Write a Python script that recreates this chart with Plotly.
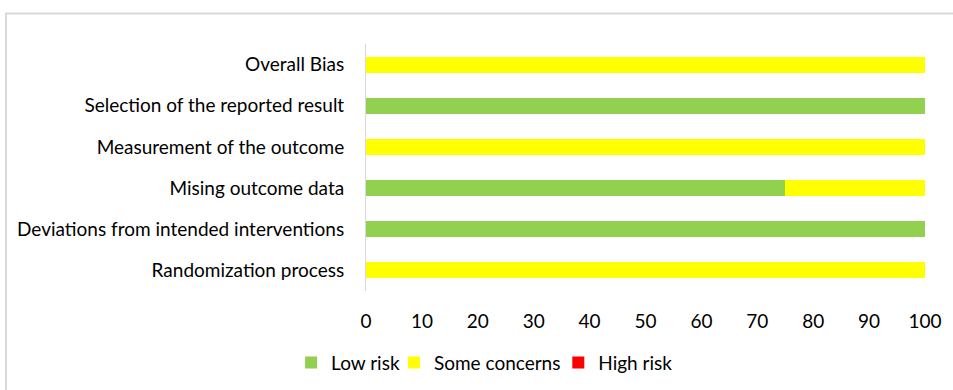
import plotly.graph_objects as go

domains = [
    "Randomization process",
    "Deviations from intended interventions",
    "Mising outcome data",
    "Measurement of the outcome",
    "Selection of the reported result",
    "Overall Bias",
]
low_risk = [0, 100, 75, 0, 100, 0]
some_concerns = [100, 0, 25, 100, 0, 100]
high_risk = [0, 0, 0, 0, 0, 0]
x_ticks = [0, 10, 20, 30, 40, 50, 60, 70, 80, 90, 100]

FONT = "Lato, 'Open Sans', sans-serif"

# each series gets its own legend box so the entries can be spaced freely
series = [
    ("Low risk", low_risk, "#92D050", "legend", -0.134),
    ("Some concerns", some_concerns, "#FFFF00", "legend2", 0.050),
    ("High risk", high_risk, "#FF0000", "legend3", 0.344),
]

fig = go.Figure()
legend_layout = {}
for name, vals, color, leg, lx in series:
    fig.add_trace(go.Bar(
        y=domains, x=vals, name=name, orientation="h",
        marker=dict(color=color, line=dict(width=0)),
        hoverinfo="x+y+name", legend=leg, showlegend=True,
    ))
    legend_layout[leg] = dict(
        orientation="h", x=lx, xanchor="left", y=-0.29, yanchor="middle",
        font=dict(size=19), itemwidth=30, bgcolor="rgba(0,0,0,0)",
    )

fig.update_layout(
    width=953, height=390,
    showlegend=True,
    barmode="stack", bargap=0.61,
    paper_bgcolor="white", plot_bgcolor="white",
    margin=dict(l=366, r=28, t=44, b=99, autoexpand=False),
    font=dict(family=FONT, size=19, color="#000000"),
    xaxis=dict(
        range=[0, 100], tickvals=x_ticks, showgrid=False, zeroline=False,
        showline=False, ticks="", ticklabelstandoff=17, fixedrange=True,
        tickfont=dict(size=19),
    ),
    yaxis=dict(
        categoryorder="array", categoryarray=domains, showgrid=False,
        zeroline=False, showline=True, linecolor="#d9d9d9", linewidth=1,
        ticks="", ticklabelstandoff=17, tickfont=dict(size=19),
    ),
    shapes=[dict(
        type="rect", xref="paper", yref="paper",
        x0=-0.644, x1=1.2, y0=-0.6, y1=1.1235,
        line=dict(color="#d9d9d9", width=2), fillcolor="rgba(0,0,0,0)",
        layer="below",
    )],
    **legend_layout,
)

fig.write_html("out.html")
